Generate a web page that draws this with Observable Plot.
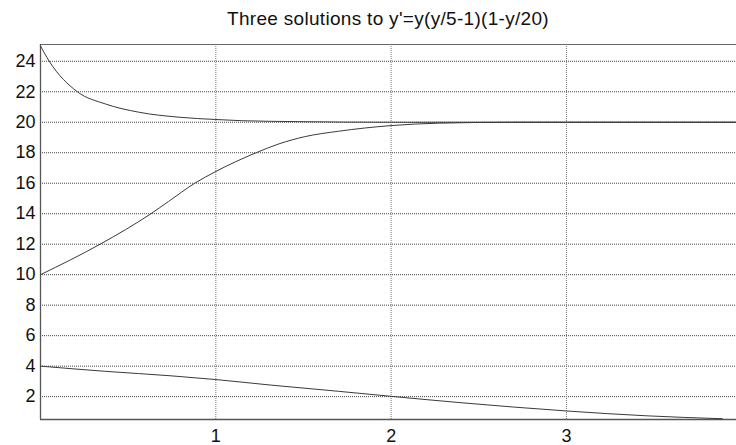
<!DOCTYPE html>
<html>
<head>
<meta charset="utf-8">
<script src="https://cdn.jsdelivr.net/npm/d3@7"></script>
<script src="https://cdn.jsdelivr.net/npm/@observablehq/plot@0.6"></script>
<style>
  html, body { margin: 0; padding: 0; background: #fff; }
  #title { height: 36px; line-height: 38px; text-align: center; font-family: "Liberation Sans", Arial, sans-serif; font-size: 19px; letter-spacing: 0.3px; color: #111; padding-left: 40px; box-sizing: border-box; }
  #chart svg { display: block; }
</style>
</head>
<body>
<div id="title">Three solutions to y'=y(y/5-1)(1-y/20)</div>
<div id="chart"></div>
<script>
// Solution starting at y=25
const t25 = [0, 0.05, 0.21, 0.37, 0.56, 0.79, 1.0, 1.15, 1.47, 2.0, 3.97];
const y25 = [25, 24, 22, 21.2, 20.66, 20.33, 20.18, 20.1, 20.04, 20.0, 20.0];
// Solution starting at y=10
const t10 = [0, 0.34, 0.63, 0.73, 0.88, 1.0, 1.23, 1.36, 1.51, 1.70, 2.0, 2.27, 2.7, 3.97];
const y10 = [10, 12, 14, 14.8, 16, 16.77, 18, 18.58, 19.06, 19.41, 19.78, 19.94, 20, 20];
// Solution starting at y=4
const t4 = [0, 0.37, 0.75, 1.0, 1.32, 1.70, 2.0, 2.41, 3.0, 3.46, 3.89];
const y4 = [4, 3.66, 3.36, 3.12, 2.75, 2.35, 2.02, 1.59, 1.06, 0.74, 0.55];

const xTicks = [1, 2, 3];
const yTicks = [2, 4, 6, 8, 10, 12, 14, 16, 18, 20, 22, 24];

const series = [
  {name: "y0=25", t: t25, y: y25},
  {name: "y0=10", t: t10, y: y10},
  {name: "y0=4", t: t4, y: y4}
];
const rows = series.flatMap(s => s.t.map((t, i) => ({series: s.name, t, y: s.y[i]})));

const xDomain = [0, 3.97];
const yDomain = [0.5, 25.1];

const chart = Plot.plot({
  width: 736,
  height: 409,
  marginTop: 8,
  marginBottom: 26,
  marginLeft: 40,
  marginRight: 0,
  style: {fontFamily: "'Liberation Sans', Arial, sans-serif", fontSize: "18px", color: "#111", background: "#fff"},
  x: {domain: xDomain, label: null},
  y: {domain: yDomain, label: null},
  marks: [
    Plot.ruleY(yTicks, {stroke: "#444", strokeWidth: 1, strokeDasharray: "1,1"}),
    Plot.ruleX(xTicks, {stroke: "#777", strokeWidth: 1, strokeDasharray: "1,1"}),
    Plot.ruleX([0], {stroke: "#555", strokeWidth: 1.3}),
    Plot.ruleY([yDomain[0]], {stroke: "#555", strokeWidth: 1.3}),
    Plot.ruleY([yDomain[1]], {stroke: "#666", strokeWidth: 1}),
    Plot.line(rows, {x: "t", y: "y", z: "series", stroke: "#3a3a3a", strokeWidth: 1, curve: "monotone-x"}),
    Plot.axisX({ticks: xTicks, tickSize: 0, tickPadding: 10, fontSize: 18, fill: "#111", tickFormat: d => String(d), label: null}),
    Plot.axisY({ticks: yTicks, tickSize: 0, tickPadding: 5, fontSize: 18, fill: "#111", tickFormat: d => String(d), label: null})
  ]
});
document.getElementById("chart").appendChild(chart);
</script>
</body>
</html>
